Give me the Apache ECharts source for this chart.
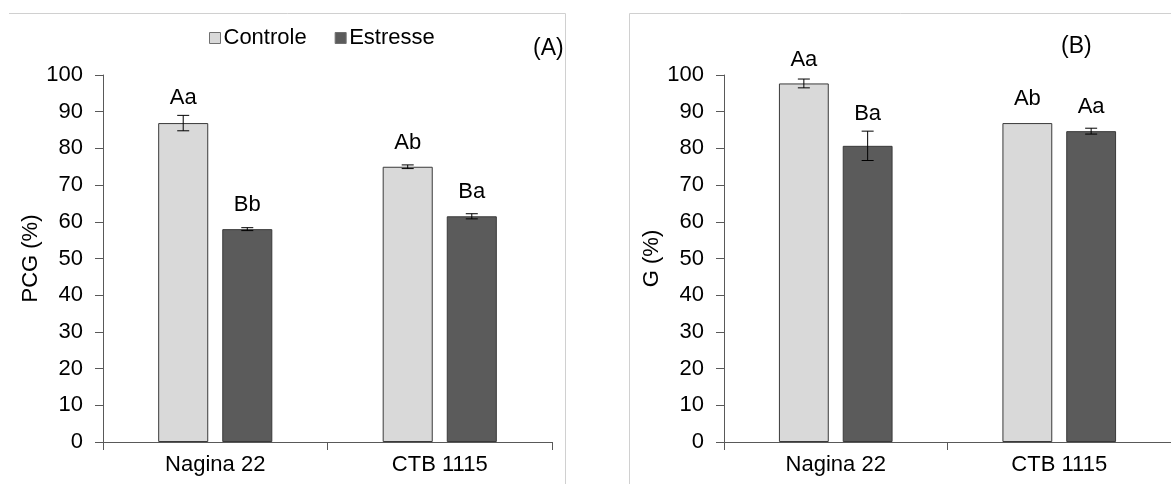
<!DOCTYPE html>
<html>
<head>
<meta charset="utf-8">
<script src="https://cdn.jsdelivr.net/npm/echarts@6/dist/echarts.min.js"></script>
<style>
html,body{margin:0;padding:0;background:#fff;}
#chart{width:1171px;height:484px;}
</style>
</head>
<body>
<div id="chart"></div>
<script>
const categories = ['Nagina 22', 'CTB 1115'];
const seriesNames = ['Controle', 'Estresse'];

const pcgControle = [86.9, 75.0];
const pcgControleErr = [2.1, 0.5];
const pcgControleLetters = ['Aa', 'Ab'];
const pcgEstresse = [58.0, 61.5];
const pcgEstresseErr = [0.4, 0.7];
const pcgEstresseLetters = ['Bb', 'Ba'];

const gControle = [97.7, 86.9];
const gControleErr = [1.2, 0];
const gControleLetters = ['Aa', 'Ab'];
const gEstresse = [80.7, 84.7];
const gEstresseErr = [4.0, 0.8];
const gEstresseLetters = ['Ba', 'Aa'];

const yMin = 0, yMax = 100, yInterval = 10;
const axisTitles = ['PCG (%)', 'G (%)'];
const panelTags = ['(A)', '(B)'];

const FONT = "'Liberation Sans', Arial, sans-serif";
const BAR_FRAC = 0.223;
const GAP_FRAC = 0.28;
const colControle = '#d9d9d9';
const colEstresse = '#5b5b5b';

function errSeries(name, axisIdx, vals, errs, letters, sign) {
  return {
    type: 'custom',
    name: name,
    xAxisIndex: axisIdx,
    yAxisIndex: axisIdx,
    z: 5,
    silent: true,
    data: vals.map((v, i) => [i, v, errs[i]]),
    encode: { x: 0, y: 1 },
    renderItem: function (params, api) {
      const ci = api.value(0);
      const v = api.value(1);
      const e = api.value(2);
      const letter = letters[params.dataIndex];
      const c = api.coord([ci, v]);
      const band = api.size([1, 0])[0];
      const bw = band * BAR_FRAC;
      const x = c[0] + sign * (bw + bw * GAP_FRAC) / 2;
      const yt = api.coord([ci, v + e])[1];
      const yb = api.coord([ci, v - e])[1];
      const st = { stroke: '#000', lineWidth: 1 };
      const children = [];
      if (e > 0) {
        children.push({ type: 'line', shape: { x1: x, y1: yt, x2: x, y2: yb }, style: st });
        children.push({ type: 'line', shape: { x1: x - 6, y1: yt, x2: x + 6, y2: yt }, style: st });
        children.push({ type: 'line', shape: { x1: x - 6, y1: yb, x2: x + 6, y2: yb }, style: st });
      }
      const ly = Math.min(c[1] - 24, yt - 17);
      children.push({
        type: 'text',
        style: {
          text: letter, x: x, y: ly,
          align: 'center', verticalAlign: 'middle',
          fontSize: 22, fontFamily: FONT, fill: '#000'
        }
      });
      return { type: 'group', children: children };
    }
  };
}

function barSeries(name, axisIdx, vals, color) {
  return {
    type: 'bar',
    name: name,
    xAxisIndex: axisIdx,
    yAxisIndex: axisIdx,
    data: vals,
    barWidth: (BAR_FRAC * 100) + '%',
    barGap: (GAP_FRAC * 100) + '%',
    itemStyle: { color: color, borderColor: '#3a3a3a', borderWidth: 1 },
    emphasis: { disabled: true }
  };
}

const axisColor = '#595959';

function xAxis(gi) {
  return {
    type: 'category',
    gridIndex: gi,
    data: categories,
    axisLine: { lineStyle: { color: axisColor, width: 1 } },
    axisTick: { show: true, length: 8, lineStyle: { color: axisColor } },
    axisLabel: { color: '#000', fontSize: 22, fontFamily: FONT, margin: 12 },
    splitLine: { show: false }
  };
}
function yAxis(gi, name, gap) {
  return {
    type: 'value',
    gridIndex: gi,
    min: yMin, max: yMax, interval: yInterval,
    name: name,
    nameLocation: 'middle',
    nameGap: gap,
    nameRotate: 90,
    nameTextStyle: { color: '#000', fontSize: 22, fontFamily: FONT },
    axisLine: { show: true, lineStyle: { color: axisColor, width: 1 } },
    axisTick: { show: true, length: 8, lineStyle: { color: axisColor } },
    axisLabel: { color: '#000', fontSize: 22, fontFamily: FONT, margin: 20 },
    splitLine: { show: false }
  };
}

const chart = echarts.init(document.getElementById('chart'), null, { renderer: 'canvas' });
chart.setOption({
  animation: false,
  backgroundColor: '#fff',
  legend: {
    data: seriesNames,
    left: 204,
    top: 22,
    icon: 'rect',
    itemWidth: 11,
    itemHeight: 11,
    itemGap: 28,
    textStyle: { fontSize: 22, fontFamily: FONT, color: '#000', padding: [0, 0, 0, -2] },
    itemStyle: { borderColor: '#707070', borderWidth: 1 }
  },
  grid: [
    { left: 103, top: 75, width: 449, height: 367 },
    { left: 724, top: 75, width: 450, height: 367 }
  ],
  xAxis: [xAxis(0), xAxis(1)],
  yAxis: [yAxis(0, axisTitles[0], 54), yAxis(1, axisTitles[1], 56)],
  graphic: [
    { type: 'polyline', shape: { points: [[9, 13.5], [565.5, 13.5], [565.5, 484]] }, style: { stroke: '#d0d0d0', lineWidth: 1, fill: null } },
    { type: 'polyline', shape: { points: [[629.5, 484], [629.5, 13.5], [1171, 13.5]] }, style: { stroke: '#d0d0d0', lineWidth: 1, fill: null } },
    { type: 'text', left: 533, top: 37, style: { text: panelTags[0], fontSize: 23, fontFamily: FONT, fill: '#000' } },
    { type: 'text', left: 1061, top: 35, style: { text: panelTags[1], fontSize: 23, fontFamily: FONT, fill: '#000' } }
  ],
  series: [
    barSeries(seriesNames[0], 0, pcgControle, colControle),
    barSeries(seriesNames[1], 0, pcgEstresse, colEstresse),
    barSeries(seriesNames[0], 1, gControle, colControle),
    barSeries(seriesNames[1], 1, gEstresse, colEstresse),
    errSeries('errPC', 0, pcgControle, pcgControleErr, pcgControleLetters, -1),
    errSeries('errPE', 0, pcgEstresse, pcgEstresseErr, pcgEstresseLetters, 1),
    errSeries('errGC', 1, gControle, gControleErr, gControleLetters, -1),
    errSeries('errGE', 1, gEstresse, gEstresseErr, gEstresseLetters, 1)
  ]
});
</script>
</body>
</html>
